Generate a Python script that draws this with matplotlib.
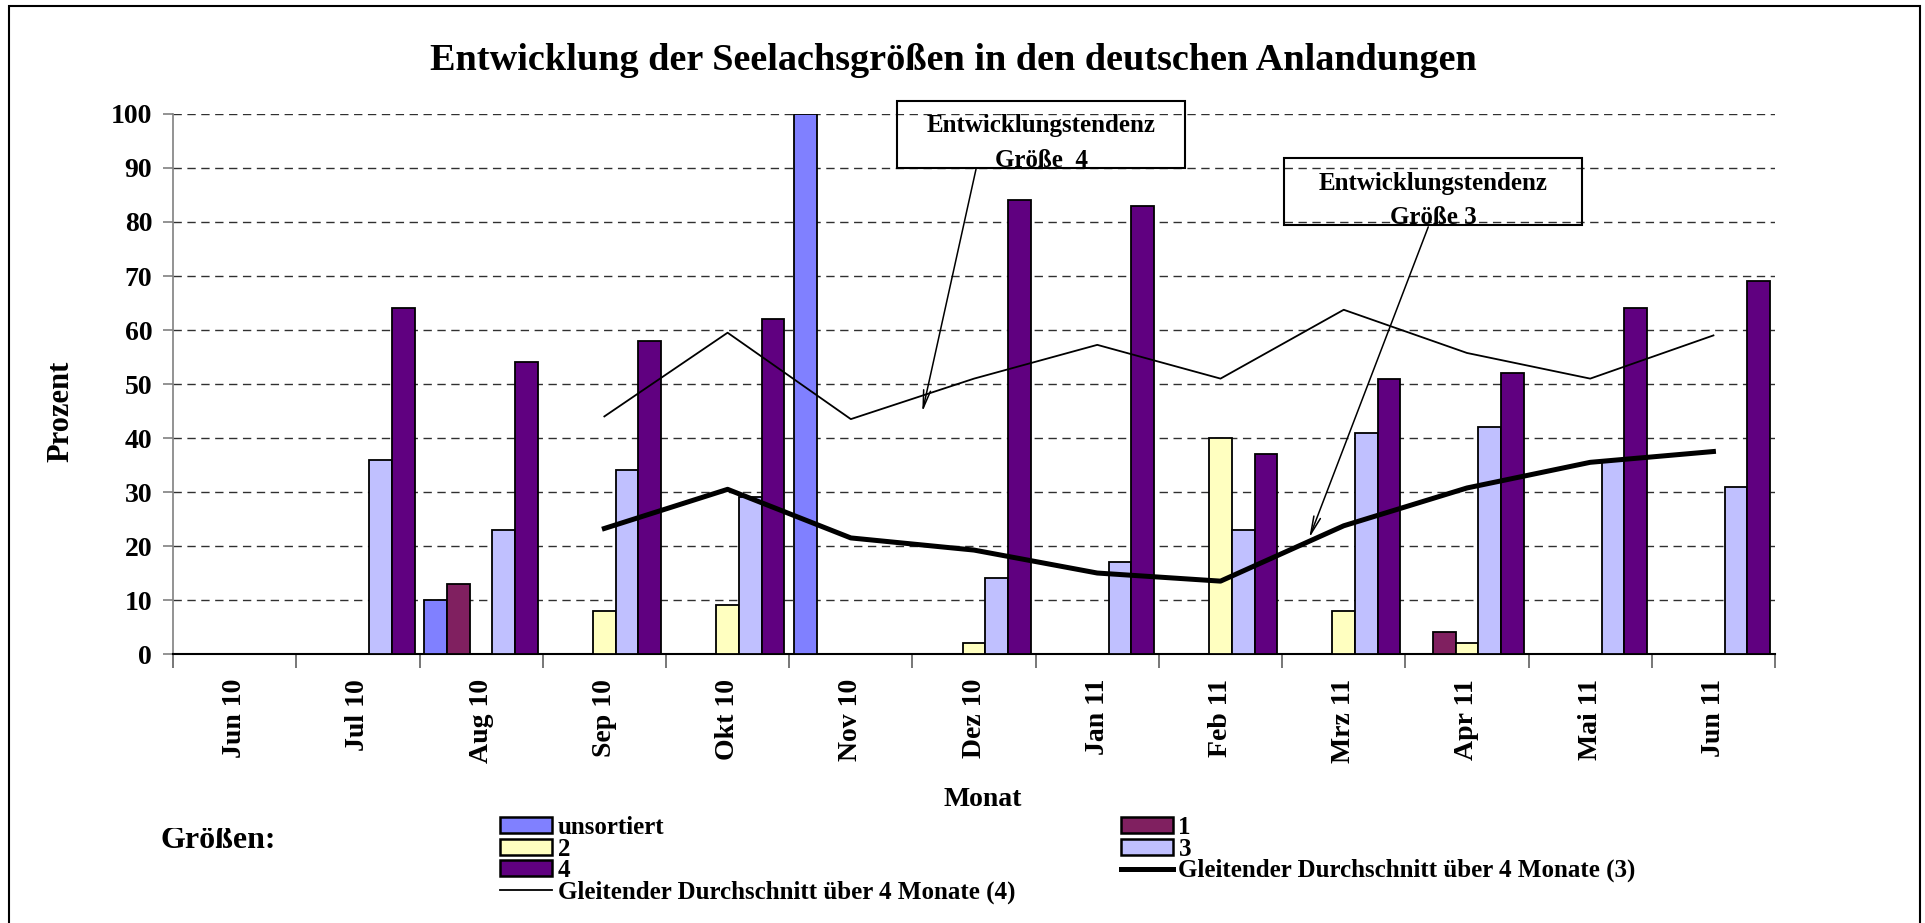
import numpy as np
import matplotlib
matplotlib.use("Agg")
import matplotlib.pyplot as plt
from matplotlib.patches import Patch, Rectangle
from matplotlib.lines import Line2D
from matplotlib.transforms import Bbox

plt.rcParams['font.family'] = ['Liberation Serif', 'DejaVu Serif']
plt.rcParams['font.weight'] = 'bold'

# data
months = ['Jun 10', 'Jul 10', 'Aug 10', 'Sep 10', 'Okt 10', 'Nov 10', 'Dez 10',
          'Jan 11', 'Feb 11', 'Mrz 11', 'Apr 11', 'Mai 11', 'Jun 11']
unsortiert = [0, 0, 10, 0, 0, 100, 0, 0, 0, 0, 0, 0, 0]
groesse1 = [0, 0, 13, 0, 0, 0, 0, 0, 0, 0, 4, 0, 0]
groesse2 = [0, 0, 0, 8, 9, 0, 2, 0, 40, 8, 2, 0, 0]
groesse3 = [0, 36, 23, 34, 29, 0, 14, 17, 23, 41, 42, 36, 31]
groesse4 = [0, 64, 54, 58, 62, 0, 84, 83, 37, 51, 52, 64, 69]
# gleitender Durchschnitt (ab Sep 10)
ma4 = [44, 59.5, 43.5, 51, 57.25, 51, 63.75, 55.75, 51, 59]
ma3 = [23.25, 30.5, 21.5, 19.25, 15, 13.5, 23.75, 30.75, 35.5, 37.5]

series = [('unsortiert', unsortiert, '#8080FF'),
          ('1', groesse1, '#802060'),
          ('2', groesse2, '#FFFFC0'),
          ('3', groesse3, '#C0C0FF'),
          ('4', groesse4, '#600080')]

fig = plt.figure(figsize=(19.25, 9.23), dpi=100)
ax = fig.add_axes([0.0899, 0.2914, 0.8322, 0.5851])

x = np.arange(len(months))
w = 0.184
for k, (name, vals, col) in enumerate(series):
    ax.bar(x + (k - 2) * w, vals, w, color=col, edgecolor='black',
           linewidth=1.3, zorder=3)

xm = np.arange(len(months) - len(ma4), len(months))
ax.plot(xm, ma4, color='black', lw=1.3, zorder=4)
ax.plot(xm, ma3, color='black', lw=3.6, zorder=4)

ax.set_xlim(-0.5, len(months) - 0.5)
ax.set_ylim(0, 100)
ax.set_yticks(np.arange(0, 101, 10))
ax.yaxis.grid(True, linestyle=(0, (6, 4)), color='#303030', lw=1)
ax.set_axisbelow(True)
ax.tick_params(axis='y', labelsize=20, length=7, color='#808080', width=1.2, pad=8)
for lab in ax.get_yticklabels():
    lab.set_fontweight('bold')

ax.set_xticks(np.arange(-0.5, len(months) + 0.5, 1))
ax.set_xticklabels([])
ax.tick_params(axis='x', which='major', length=10, color='#606060', width=1.2)
ax.set_xticks(x, minor=True)
ax.set_xticklabels(months, minor=True, rotation=90, fontsize=20, fontweight='bold',
                   va='top', ha='center')
ax.tick_params(axis='x', which='minor', length=0, pad=18)

for s in ['top', 'right']:
    ax.spines[s].set_visible(False)
ax.spines['left'].set_color('#808080')
ax.spines['left'].set_linewidth(1.2)
ax.spines['bottom'].set_linewidth(1.5)

# annotation boxes
arrow = dict(arrowstyle='->,head_length=1.3,head_width=0.25', lw=1.1,
             color='black', shrinkA=0, shrinkB=0)
ax.add_patch(Rectangle((5.377, 90), 2.337, 12.4, fill=False, edgecolor='black',
                       lw=1.5, clip_on=False, zorder=5))
ax.text(6.545, 97.8, 'Entwicklungstendenz', ha='center', va='center', fontsize=18,
        fontweight='bold', zorder=6)
ax.text(6.545, 91.4, 'Größe  4', ha='center', va='center', fontsize=18,
        fontweight='bold', zorder=6)
ax.annotate('', xy=(5.58, 44.8), xytext=(6.018, 90), arrowprops=arrow, zorder=6)

ax.add_patch(Rectangle((8.518, 79.4), 2.412, 12.45, fill=False, edgecolor='black',
                       lw=1.5, clip_on=False, zorder=5))
ax.text(9.724, 87.2, 'Entwicklungstendenz', ha='center', va='center', fontsize=18,
        fontweight='bold', zorder=6)
ax.text(9.724, 80.9, 'Größe 3', ha='center', va='center', fontsize=18,
        fontweight='bold', zorder=6)
ax.annotate('', xy=(8.72, 21.5), xytext=(9.686, 79.1), arrowprops=arrow, zorder=6)

# texts
fig.text(953 / 1925, 1 - 60 / 923, 'Entwicklung der Seelachsgrößen in den deutschen Anlandungen',
         ha='center', va='center', fontsize=27.5, fontweight='bold')
fig.text(61 / 1925, 1 - 411 / 923, 'Prozent', rotation=90, ha='center', va='center',
         fontsize=22, fontweight='bold')
fig.text(983 / 1925, 1 - 800 / 923, 'Monat', ha='center', va='center',
         fontsize=20, fontweight='bold')
gr = fig.text(160 / 1925, 1 - 848 / 923, 'Größen:', ha='left', va='baseline',
              fontsize=23, fontweight='bold')
gr.set_clip_box(Bbox.from_extents(0, 0, 1925, 923 - 828))
gr.set_clip_on(True)

# legend
def ph(name):
    col = [c for n, v, c in series if n == name][0]
    return Patch(facecolor=col, edgecolor='black', lw=1.8)

handles = [ph('unsortiert'), ph('2'), ph('4'),
           Line2D([], [], color='black', lw=1.3),
           ph('1'), ph('3'),
           Line2D([], [], color='black', lw=3.6)]
labels = ['unsortiert', '2', '4', 'Gleitender Durchschnitt über 4 Monate (4)',
          '1', '3', 'Gleitender Durchschnitt über 4 Monate (3)']
fig.legend(handles, labels, loc='upper left', bbox_to_anchor=(500 / 1925, 1 - 816 / 923),
           ncol=2, frameon=False, prop={'size': 18, 'weight': 'bold'},
           handlelength=2.08, handleheight=0.6, handletextpad=0.24,
           labelspacing=-0.06, columnspacing=4.2, borderpad=0, borderaxespad=0)

# outer frame
fig.add_artist(Rectangle((9 / 1925, -0.01), 1911 / 1925, 1 - 6 / 923 + 0.01,
                         transform=fig.transFigure, fill=False, edgecolor='black', lw=1.5))

fig.savefig('out.png', dpi=100)
